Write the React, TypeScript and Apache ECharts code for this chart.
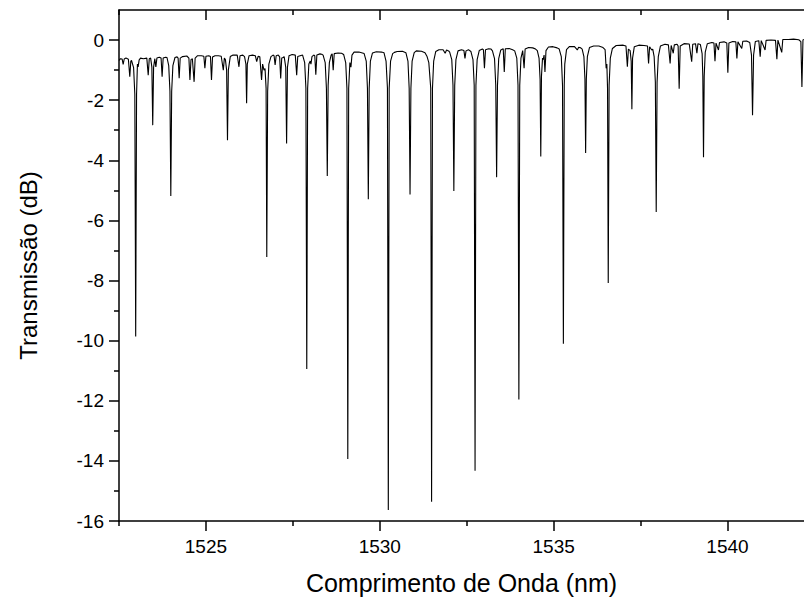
import React, { useEffect, useRef } from "react";
import * as echarts from "echarts";

// Axis ticks
const xMajorTicks = [1525, 1530, 1535, 1540];
const xMinorTicks = [1522.5, 1527.5, 1532.5, 1537.5];
const yMajorTicks = [-16, -14, -12, -10, -8, -6, -4, -2, 0];
const yMinorTicks = [-15, -13, -11, -9, -7, -5, -3, -1];

const xTitle = "Comprimento de Onda (nm)";
const yTitle = "Transmissão (dB)";

// Transmission spectrum [wavelength nm, transmission dB]
const spectrum1525: [number, number][] = [
  [1522.50,-0.68],[1522.54,-0.62],[1522.59,-0.63],[1522.62,-0.81],[1522.65,-0.63],[1522.70,-0.6],[1522.77,-0.64],[1522.81,-1.22],[1522.84,-0.7],[1522.86,-0.68],[1522.92,-0.92],[1522.955,-1.8],[1522.98,-9.86],[1523.005,-1.8],[1523.03,-0.8],[1523.05,-0.89],[1523.08,-0.66],[1523.12,-0.6],[1523.2,-0.62],[1523.3,-0.6],[1523.34,-1.17],[1523.37,-0.62],[1523.41,-0.6],[1523.445,-0.9],[1523.47,-2.83],[1523.495,-0.9],[1523.53,-0.62],[1523.56,-0.89],[1523.59,-0.6],[1523.66,-0.57],[1523.71,-0.6],[1523.74,-1.22],[1523.77,-0.6],[1523.84,-0.57],[1523.88,-0.58],[1523.93,-0.85],[1523.965,-1.7],[1523.99,-5.19],[1524.015,-1.7],[1524.05,-0.85],[1524.11,-0.58],[1524.17,-0.56],[1524.2,-0.6],[1524.23,-1.27],[1524.26,-0.6],[1524.33,-0.55],[1524.45,-0.53],[1524.51,-0.6],[1524.54,-1.33],[1524.57,-0.65],[1524.61,-0.62],[1524.66,-1.39],[1524.69,-0.6],[1524.76,-0.52],[1524.87,-0.52],[1524.94,-0.54],[1524.97,-0.94],[1525.0,-0.54],
];
const spectrum1530: [number, number][] = [
  [1525.08,-0.52],[1525.13,-0.55],[1525.16,-1.33],[1525.19,-0.56],[1525.26,-0.52],[1525.36,-0.52],[1525.44,-0.54],[1525.5,-1.0],[1525.53,-0.6],[1525.56,-0.65],[1525.595,-1.0],[1525.62,-3.33],[1525.645,-1.0],[1525.7,-0.55],[1525.78,-0.5],[1525.9,-0.5],[1525.95,-0.89],[1525.98,-0.52],[1526.06,-0.5],[1526.11,-0.55],[1526.15,-0.8],[1526.17,-2.1],[1526.19,-0.8],[1526.24,-0.52],[1526.34,-0.5],[1526.42,-0.52],[1526.46,-0.72],[1526.5,-0.54],[1526.55,-0.56],[1526.6,-1.33],[1526.63,-0.8],[1526.67,-1.0],[1526.7,-0.95],[1526.73,-1.6],[1526.75,-7.22],[1526.775,-1.7],[1526.81,-0.8],[1526.87,-0.55],[1526.93,-0.5],[1526.96,-0.52],[1526.99,-0.83],[1527.02,-0.52],[1527.08,-0.5],[1527.12,-0.56],[1527.15,-1.28],[1527.18,-0.6],[1527.22,-0.58],[1527.25,-0.55],[1527.295,-0.9],[1527.32,-3.44],[1527.345,-0.9],[1527.39,-0.52],[1527.48,-0.48],[1527.57,-0.5],[1527.61,-1.17],[1527.64,-0.55],[1527.78,-0.5],[1527.84,-0.75],[1527.875,-1.6],[1527.9,-10.94],[1527.925,-1.6],[1527.96,-0.8],[1528.0,-0.7],[1528.02,-0.8],[1528.05,-0.55],[1528.1,-0.5],[1528.13,-0.52],[1528.16,-1.15],[1528.19,-0.5],[1528.28,-0.46],[1528.33,-0.47],[1528.37,-0.5],[1528.43,-0.75],[1528.465,-1.6],[1528.49,-4.52],[1528.515,-1.5],[1528.55,-0.75],[1528.6,-0.5],[1528.63,-0.46],[1528.66,-1.0],[1528.69,-0.45],[1528.8,-0.43],[1528.9,-0.44],[1528.96,-0.48],[1529.02,-0.75],[1529.055,-1.6],[1529.08,-13.94],[1529.105,-1.6],[1529.14,-0.75],[1529.17,-0.9],[1529.2,-0.5],[1529.26,-0.4],[1529.4,-0.4],[1529.5,-0.43],[1529.55,-0.45],[1529.61,-0.7],[1529.645,-1.6],[1529.67,-5.3],[1529.695,-1.6],[1529.73,-0.7],[1529.79,-0.43],[1529.9,-0.39],
];
const spectrum1535: [number, number][] = [
  [1530.05,-0.4],[1530.12,-0.42],[1530.18,-0.7],[1530.22,-1.6],[1530.245,-15.63],[1530.27,-1.6],[1530.31,-0.7],[1530.37,-0.45],[1530.42,-0.41],[1530.5,-0.38],[1530.65,-0.37],[1530.75,-0.42],[1530.81,-0.7],[1530.845,-1.6],[1530.87,-5.14],[1530.895,-1.6],[1530.93,-0.7],[1530.99,-0.42],[1531.05,-0.36],[1531.2,-0.37],[1531.3,-0.42],[1531.36,-0.55],[1531.41,-0.75],[1531.465,-1.6],[1531.49,-15.36],[1531.515,-1.6],[1531.55,-0.7],[1531.61,-0.38],[1531.7,-0.32],[1531.82,-0.32],[1531.88,-0.44],[1531.92,-0.33],[1531.98,-0.36],[1532.01,-0.4],[1532.07,-0.65],[1532.105,-1.5],[1532.13,-5.02],[1532.155,-1.5],[1532.19,-0.65],[1532.25,-0.36],[1532.35,-0.32],[1532.42,-0.35],[1532.45,-0.61],[1532.48,-0.36],[1532.55,-0.32],[1532.62,-0.38],[1532.68,-0.65],[1532.715,-1.5],[1532.74,-14.33],[1532.765,-1.5],[1532.8,-0.65],[1532.86,-0.35],[1532.95,-0.3],[1532.98,-0.32],[1533.01,-0.94],[1533.04,-0.32],[1533.13,-0.29],[1533.2,-0.3],[1533.24,-0.36],[1533.3,-0.62],[1533.335,-1.5],[1533.36,-4.56],[1533.385,-1.5],[1533.42,-0.62],[1533.48,-0.33],[1533.55,-0.29],[1533.58,-1.06],[1533.61,-0.29],[1533.72,-0.28],[1533.82,-0.32],[1533.88,-0.36],[1533.94,-0.6],[1533.975,-1.5],[1534.0,-11.96],[1534.025,-1.5],[1534.06,-0.6],[1534.11,-0.35],[1534.15,-0.94],[1534.18,-0.3],[1534.28,-0.25],[1534.4,-0.26],[1534.48,-0.3],[1534.53,-0.35],[1534.58,-0.6],[1534.61,-1.3],[1534.63,-3.87],[1534.65,-1.2],[1534.68,-0.6],[1534.7,-0.65],[1534.725,-0.5],[1534.75,-1.06],[1534.78,-0.35],[1534.85,-0.23],[1534.98,-0.22],
];
const spectrum1542: [number, number][] = [
  [1535.1,-0.26],[1535.16,-0.3],[1535.22,-0.55],[1535.255,-1.5],[1535.28,-10.1],[1535.305,-1.5],[1535.32,-0.8],[1535.33,-0.78],[1535.37,-0.32],[1535.45,-0.22],[1535.6,-0.22],[1535.68,-0.33],[1535.72,-0.24],[1535.78,-0.26],[1535.82,-0.3],[1535.87,-0.55],[1535.9,-1.3],[1535.92,-3.76],[1535.94,-1.3],[1535.97,-0.55],[1536.03,-0.25],[1536.15,-0.2],[1536.3,-0.2],[1536.42,-0.25],[1536.48,-0.32],[1536.51,-0.94],[1536.53,-0.8],[1536.55,-1.6],[1536.57,-8.08],[1536.595,-1.5],[1536.63,-0.6],[1536.69,-0.28],[1536.8,-0.18],[1537.0,-0.17],[1537.08,-0.2],[1537.12,-0.89],[1537.15,-0.3],[1537.2,-0.35],[1537.23,-0.7],[1537.25,-2.3],[1537.27,-0.6],[1537.32,-0.22],[1537.45,-0.17],[1537.6,-0.18],[1537.7,-0.2],[1537.73,-0.78],[1537.76,-0.22],[1537.82,-0.33],[1537.85,-0.3],[1537.89,-0.55],[1537.925,-1.4],[1537.95,-5.72],[1537.975,-1.4],[1538.01,-0.55],[1538.07,-0.2],[1538.2,-0.14],[1538.3,-0.16],[1538.35,-0.78],[1538.38,-0.18],[1538.44,-0.44],[1538.47,-0.16],[1538.55,-0.14],[1538.58,-0.2],[1538.61,-1.62],[1538.64,-0.2],[1538.75,-0.12],[1538.9,-0.13],[1538.97,-0.72],[1539.0,-0.14],[1539.08,-0.12],[1539.12,-0.44],[1539.15,-0.12],[1539.22,-0.15],[1539.27,-0.45],[1539.29,-1.2],[1539.31,-3.9],[1539.33,-1.2],[1539.36,-0.4],[1539.42,-0.12],[1539.55,-0.08],[1539.61,-0.1],[1539.64,-0.7],[1539.67,-0.1],[1539.74,-0.33],[1539.77,-0.08],[1539.9,-0.06],[1539.98,-0.1],[1540.01,-1.09],[1540.04,-0.1],[1540.15,-0.05],[1540.24,-0.06],[1540.27,-0.61],[1540.3,-0.06],[1540.41,-0.28],[1540.44,-0.04],[1540.55,-0.03],[1540.64,-0.08],[1540.69,-0.5],[1540.72,-2.5],[1540.75,-0.5],[1540.8,-0.05],[1540.9,-0.02],[1540.94,-0.55],[1540.97,-0.02],[1541.08,-0.33],[1541.11,-0.01],[1541.25,0.0],[1541.38,-0.01],[1541.42,-0.64],[1541.45,0.0],[1541.56,-0.41],[1541.59,0.02],[1541.75,0.02],[1541.9,0.03],[1542.05,0.01],[1542.11,-0.05],[1542.14,-1.56],[1542.17,0.0],[1542.2,0.02],
];

const X_MIN = 1522.5;
const X_MAX = 1542.2;
const Y_MIN = -16;
const Y_MAX = 1;

const FONT = "'Liberation Sans', Arial, sans-serif";

export default function App() {
  const ref = useRef<HTMLDivElement>(null);

  useEffect(() => {
    if (!ref.current) return;
    const chart = echarts.init(ref.current, undefined, { renderer: "svg" });
    const black = "#000";
    const lineW = 1.5;

    const baseX = {
      type: "value" as const,
      min: X_MIN,
      max: X_MAX,
      splitLine: { show: false },
    };
    const baseY = {
      type: "value" as const,
      min: Y_MIN,
      max: Y_MAX,
      splitLine: { show: false },
    };

    const option: any = {
      animation: false,
      backgroundColor: "#fff",
      grid: { left: 119, right: 0, top: 10, bottom: 79, containLabel: false },
      xAxis: [
        {
          ...baseX,
          position: "bottom",
          axisLine: { show: true, onZero: false, lineStyle: { color: black, width: lineW } },
          axisTick: { show: true, inside: false, length: 10, customValues: xMajorTicks, lineStyle: { color: black, width: lineW } },
          axisLabel: {
            show: true,
            customValues: xMajorTicks,
            margin: 16,
            color: black,
            fontSize: 19,
            fontFamily: FONT,
            formatter: (v: number) => String(v),
          },
          name: xTitle,
          nameLocation: "middle",
          nameGap: 49,
          nameTextStyle: { color: black, fontSize: 25, fontFamily: FONT },
        },
        {
          ...baseX,
          position: "bottom",
          axisLine: { show: false, onZero: false },
          axisTick: { show: true, inside: false, length: 5, customValues: xMinorTicks, lineStyle: { color: black, width: lineW } },
          axisLabel: { show: false },
        },
        {
          ...baseX,
          position: "top",
          axisLine: { show: true, onZero: false, lineStyle: { color: black, width: lineW } },
          axisTick: { show: true, inside: true, length: 10, customValues: xMajorTicks, lineStyle: { color: black, width: lineW } },
          axisLabel: { show: false },
        },
        {
          ...baseX,
          position: "top",
          axisLine: { show: false, onZero: false },
          axisTick: { show: true, inside: true, length: 5, customValues: xMinorTicks, lineStyle: { color: black, width: lineW } },
          axisLabel: { show: false },
        },
      ],
      yAxis: [
        {
          ...baseY,
          position: "left",
          axisLine: { show: true, onZero: false, lineStyle: { color: black, width: lineW } },
          axisTick: { show: true, inside: false, length: 10, customValues: yMajorTicks, lineStyle: { color: black, width: lineW } },
          axisLabel: {
            show: true,
            customValues: yMajorTicks,
            margin: 15,
            color: black,
            fontSize: 19,
            fontFamily: FONT,
            formatter: (v: number) => String(v),
          },
          name: yTitle,
          nameLocation: "middle",
          nameGap: 79,
          nameTextStyle: { color: black, fontSize: 24, fontFamily: FONT },
        },
        {
          ...baseY,
          position: "left",
          axisLine: { show: false, onZero: false },
          axisTick: { show: true, inside: false, length: 5, customValues: yMinorTicks, lineStyle: { color: black, width: lineW } },
          axisLabel: { show: false },
        },
      ],
      series: [
        {
          type: "line",
          xAxisIndex: 0,
          yAxisIndex: 0,
          data: [...spectrum1525, ...spectrum1530, ...spectrum1535, ...spectrum1542],
          showSymbol: false,
          symbol: "none",
          lineStyle: { color: black, width: 1.1 },
          clip: true,
        },
      ],
    };

    chart.setOption(option);
    return () => chart.dispose();
  }, []);

  return (
    <div
      ref={ref}
      style={{ position: "fixed", left: 0, top: 0, width: 804, height: 600, background: "#fff" }}
    />
  );
}
